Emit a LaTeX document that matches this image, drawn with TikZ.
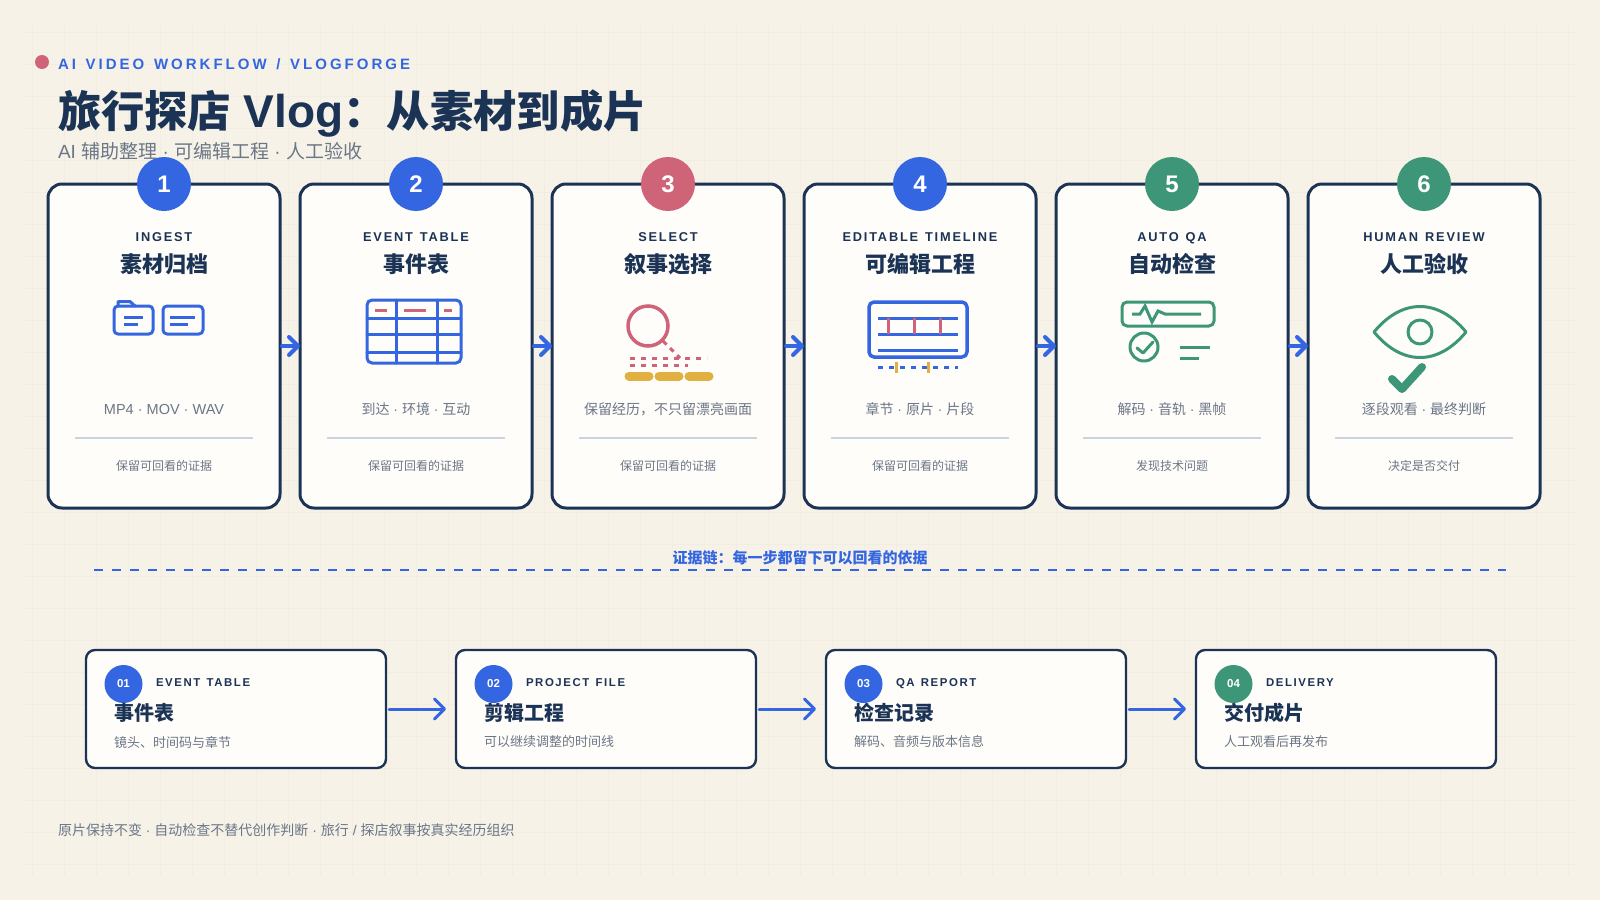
\documentclass[tikz,border=0pt]{standalone}
\usepackage{fontspec}
\usetikzlibrary{arrows.meta,calc}
\setmainfont{Liberation Sans}
\newfontfamily\cjkf{Noto Sans CJK SC}
\newfontfamily\latsp[LetterSpace=14,WordSpace=1.3]{Liberation Sans}
\newfontfamily\latspb[LetterSpace=20,WordSpace=1.35]{Liberation Sans}
\newcommand\zh[1]{{\cjkf #1}}
\newcommand\fsz[1]{\fontsize{#1}{#1}\selectfont}
\definecolor{bgc}{HTML}{F6F2E8}
\definecolor{gridc}{HTML}{F1EDE3}
\definecolor{navy}{HTML}{1B3355}
\definecolor{bluec}{HTML}{3366E0}
\definecolor{pinkc}{HTML}{CF6478}
\definecolor{greenc}{HTML}{3D9678}
\definecolor{goldc}{HTML}{E0B040}
\definecolor{grayc}{HTML}{6B7686}
\definecolor{rulec}{HTML}{CBD5E1}
\definecolor{cardc}{HTML}{FFFDF9}
\tikzset{
  x=1pt,y=-1pt,
  every node/.style={inner sep=0,outer sep=0},
  stagecard/.style={draw=navy,fill=cardc,line width=3pt,rounded corners=14pt,minimum width=232pt,minimum height=324pt},
  outcard/.style={draw=navy,fill=cardc,line width=2.4pt,rounded corners=9pt,minimum width=300pt,minimum height=118pt},
  numdot/.style={circle,minimum size=54pt,text=white,font=\fsz{24}\bfseries},
  smalldot/.style={circle,minimum size=38pt,text=white,font=\fsz{11.5}\bfseries},
  flowarrow/.style={draw=bluec,line width=4pt,line cap=round,shorten <=2pt,-{Straight Barb[length=9pt,width=18pt,round]}},
  outarrow/.style={draw=bluec,line width=3pt,line cap=round,shorten <=3pt,shorten >=10pt,-{Straight Barb[length=10pt,width=20pt,round]}},
  icon/.style={line width=3pt,line cap=round,line join=round},
  dashedicon/.style={line width=3pt,dash pattern=on 5pt off 6pt},
  enlabel/.style={font=\fsz{12.8}\bfseries\latsp,text=navy,anchor=base},
  zhtitle/.style={font=\fsz{22}\bfseries\cjkf,text=navy,anchor=center},
  desc/.style={font=\fsz{14},text=grayc,anchor=base},
  foot/.style={font=\fsz{12},text=grayc,anchor=center},
  outtitle/.style={font=\fsz{20}\bfseries\cjkf,text=navy,anchor=west},
  outdesc/.style={font=\fsz{13}\cjkf,text=grayc,anchor=west},
  outen/.style={font=\fsz{11.4}\bfseries\latsp,text=navy,anchor=base west},
}
% #1 index, #2 left x, #3 colour, #4 english, #5 chinese, #6 desc, #7 foot
\newcommand\stage[7]{%
  \pgfmathsetmacro\cx{#2+116}
  \node[stagecard] (s#1) at (\cx,346) {};
  \node[numdot,fill=#3] (n#1) at (\cx,184) {#1};
  \node[enlabel] (e#1) at (\cx,241.5) {#4};
  \node[zhtitle] (t#1) at (\cx,264) {#5};
  \node[desc] (d#1) at (\cx,414) {#6};
  \draw[rulec,line width=1.5pt] (\cx-89,438) -- (\cx+89,438);
  \node[foot] (f#1) at (\cx,466) {\zh{#7}};
}
% #1 index, #2 left x, #3 colour, #4 number, #5 english, #6 chinese, #7 desc
\newcommand\outcome[7]{%
  \pgfmathsetmacro\cx{#2+150}
  \node[outcard] (o#1) at (\cx,709) {};
  \node[smalldot,fill=#3] (q#1) at (#2+37.5,684) {#4};
  \node[outen] (g#1) at (#2+70,686) {#5};
  \node[outtitle] (h#1) at (#2+28,713) {#6};
  \node[outdesc] (k#1) at (#2+28,742) {#7};
}
\begin{document}
\begin{tikzpicture}
\useasboundingbox (0,0) rectangle (1600,900);
\fill[bgc] (0,0) rectangle (1600,900);
\foreach \k in {1,...,49} \draw[gridc,line width=1pt] (32*\k,24) -- (32*\k,876);
\foreach \k in {1,...,27} \draw[gridc,line width=1pt] (24,32*\k) -- (1576,32*\k);

\node[circle,fill=pinkc,minimum size=14pt] (dot) at (42,62) {};
\node[anchor=west,text=bluec,font=\fsz{15}\bfseries\latspb] (brow) at (58,64.5) {AI VIDEO WORKFLOW / VLOGFORGE};
\node[anchor=base west,text=navy,font=\fsz{46}\bfseries] (title) at (58,127) {{\fsz{43.3}\zh{旅行探店}} Vlog{\fsz{43.3}\zh{：从素材到成片}}};
\node[anchor=base west,text=grayc,font=\fsz{19}] (sub) at (58,158) {AI \zh{辅助整理} · \zh{可编辑工程} · \zh{人工验收}};

\stage{1}{48}{bluec}{INGEST}{素材归档}{{\fsz{14.5}MP4 · MOV · WAV}}{保留可回看的证据}
\stage{2}{300}{bluec}{EVENT TABLE}{事件表}{\zh{到达} · \zh{环境} · \zh{互动}}{保留可回看的证据}
\stage{3}{552}{pinkc}{SELECT}{叙事选择}{\zh{保留经历，不只留漂亮画面}}{保留可回看的证据}
\stage{4}{804}{bluec}{EDITABLE TIMELINE}{可编辑工程}{\zh{章节} · \zh{原片} · \zh{片段}}{保留可回看的证据}
\stage{5}{1056}{greenc}{AUTO QA}{自动检查}{\zh{解码} · \zh{音轨} · \zh{黑帧}}{发现技术问题}
\stage{6}{1308}{greenc}{HUMAN REVIEW}{人工验收}{\zh{逐段观看} · \zh{最终判断}}{决定是否交付}

\foreach \a/\b in {1/2,2/3,3/4,4/5,5/6} \draw[flowarrow] (s\a.east) -- (s\b.west);

% icon 1: folder and card
\begin{scope}[icon,draw=bluec]
\draw[rounded corners=4pt] (114,306) rectangle (153,334);
\draw (118,306) -- (118,301.5) -- (130,301.5) -- (135,306);
\draw[line cap=butt] (124,317) -- (143,317) (124,324) -- (138,324);
\draw[rounded corners=4pt] (163,306) rectangle (203,334);
\draw[line cap=butt] (170,317) -- (195,317) (170,324) -- (188,324);
\end{scope}
% icon 2: table
\begin{scope}[icon,draw=bluec]
\draw[rounded corners=5pt] (367,300) rectangle (461,363);
\draw (396,300) -- (396,363) (437,300) -- (437,363);
\draw (367,318) -- (461,318) (367,334) -- (461,334) (367,352) -- (461,352);
\draw[pinkc,line cap=butt] (375,310) -- (387,310) (404,310) -- (426,310) (444,310) -- (452,310);
\end{scope}
% icon 3: magnifier
\draw[pinkc,line width=3.5pt] (648,326) circle (20);
\draw[pinkc,line width=3pt,dash pattern=on 5pt off 5pt] (663,341) -- (680,358);
\draw[pinkc,dashedicon] (630,358) -- (707,358);
\draw[pinkc,dashedicon] (630,365) -- (688,365);
\foreach \p/\q in {629/649,659/679,689/709} \draw[goldc,line width=9pt,line cap=round] (\p,376) -- (\q,376);
% icon 4: timeline
\begin{scope}[icon,draw=bluec]
\draw[line width=3.5pt,rounded corners=5pt] (869,302) rectangle (967,357);
\draw[line cap=butt] (878,318) -- (958,318) (878,334) -- (958,334) (878,350) -- (958,350);
\draw[pinkc,line cap=butt] (888,318) -- (888,334) (914,318) -- (914,334) (940,318) -- (940,334);
\end{scope}
\draw[bluec,dashedicon] (878,367) -- (958,367);
\draw[goldc,line width=3pt] (896,362) -- (896,373) (928,362) -- (928,373);
% icon 5: QA
\begin{scope}[icon,draw=greenc]
\draw[rounded corners=5pt] (1122,302) rectangle (1214,326);
\draw[line cap=butt,line join=miter] (1132,314) -- (1140,314) -- (1145,306) -- (1152,322) -- (1158,311) -- (1165,314) -- (1201,314);
\draw (1144,347) circle (14);
\draw (1137,348) -- (1143,353) -- (1153,342);
\draw[line cap=butt] (1180,347) -- (1210,347) (1180,358) -- (1199,358);
\end{scope}
% icon 6: eye
\begin{scope}[icon,draw=greenc]
\draw (1374,332) .. controls (1402,298) and (1438,298) .. (1466,332) .. controls (1438,366) and (1402,366) .. (1374,332) -- cycle;
\draw (1420,332) circle (12);
\draw[line width=8pt] (1392,379) -- (1402,389) -- (1422,367);
\end{scope}

\node[text=bluec,font=\fsz{15}\bfseries\cjkf] (chain) at (800,558) {证据链：每一步都留下可以回看的依据};
\coordinate (cl) at (94,570);
\coordinate (cr) at (1506,570);
\draw[bluec,line width=2pt,dash pattern=on 9pt off 9pt] (cl) -- (cr);

\outcome{1}{86}{bluec}{01}{EVENT TABLE}{事件表}{镜头、时间码与章节}
\outcome{2}{456}{bluec}{02}{PROJECT FILE}{剪辑工程}{可以继续调整的时间线}
\outcome{3}{826}{bluec}{03}{QA REPORT}{检查记录}{解码、音频与版本信息}
\outcome{4}{1196}{greenc}{04}{DELIVERY}{交付成片}{人工观看后再发布}
\foreach \a/\b in {1/2,2/3,3/4} \draw[outarrow] (o\a.east) -- (o\b.west);

\node[anchor=west,text=grayc,font=\fsz{14}] (note) at (58,830) {\zh{原片保持不变} · \zh{自动检查不替代创作判断} · \zh{旅行} / \zh{探店叙事按真实经历组织}};
\end{tikzpicture}
\end{document}
